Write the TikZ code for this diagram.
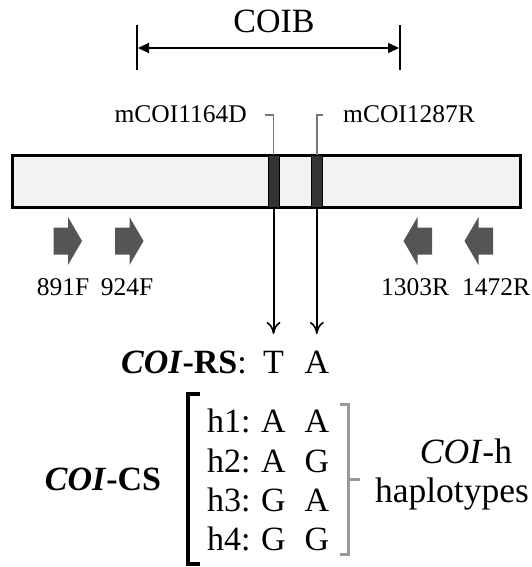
\documentclass[tikz,border=0pt]{standalone}
\usepackage{fontspec}
\setmainfont{Liberation Serif}
\usetikzlibrary{arrows.meta}
\definecolor{boxfill}{HTML}{F2F2F2}
\definecolor{band}{HTML}{333333}
\definecolor{primer}{HTML}{555555}
\definecolor{leader}{HTML}{777777}
\definecolor{brk}{HTML}{999999}
\tikzset{
  big/.style={font=\fontsize{34}{36}\selectfont, inner sep=0pt, anchor=base},
  bigger/.style={font=\fontsize{35.5}{38}\selectfont, inner sep=0pt, anchor=base},
  small/.style={font=\fontsize{25.5}{28}\selectfont, inner sep=0pt, anchor=base},
  snpline/.style={line width=2pt, -{To[length=12pt,width=14pt,line width=1.6pt]}},
  bandbox/.style={draw, line width=1pt, fill=band, minimum width=11pt, minimum height=52pt, inner sep=0pt},
}
\begin{document}
\begin{tikzpicture}[x=1pt,y=-1pt]
\useasboundingbox (0,0) rectangle (532,567);

% amplicon span
\node[big] (coib) at (274,33) {COIB};
\coordinate (dL) at (137,48);
\coordinate (dR) at (400,48);
\draw[line width=2.5pt] (137,25) -- (137,70);
\draw[line width=2.5pt] (400,25) -- (400,70);
\draw[line width=2pt, {Triangle[length=11pt,width=10pt]}-{Triangle[length=11pt,width=10pt]}, shorten <=1pt, shorten >=1pt] (dL) -- (dR);

% gene bar with the two SNP bands
\node[draw, line width=3pt, fill=boxfill, minimum width=508pt, minimum height=52pt, inner sep=0pt] (gene) at (266,181) {};
\node[bandbox] (s1) at (273.5,181) {};
\node[bandbox] (s2) at (316.8,181) {};

% primer labels with leaders
\node[small, anchor=base east] (p1) at (247,122) {mCOI1164D};
\node[small, anchor=base west] (p2) at (343,122) {mCOI1287R};
\draw[leader, line width=1.5pt] (265,115) -- (273.5,115) -- (s1.north);
\draw[leader, line width=1.5pt] (323,115) -- (316.8,115) -- (s2.north);

% flanking primers (forward to the right, reverse to the left)
\foreach \x/\d in {53.5/1, 115/1, 432/-1, 493/-1}{
  \fill[primer] (\x,227.5) -- ++(14.5*\d,0) -- ++(0,-10.5) -- ++(14*\d,24) -- ++(-14*\d,24) -- ++(0,-10.5) -- ++(-14.5*\d,0) -- cycle;
}
\node[small] (l1) at (63,295) {891F};
\node[small] (l2) at (127,295) {924F};
\node[small] (l3) at (415,295) {1303R};
\node[small] (l4) at (496,295) {1472R};

% reference sequence
\node[big, anchor=base east] (rs) at (247,373) {\textbf{\textit{COI}-RS}:};
\node[big] (t1) at (273.5,373) {T};
\node[big] (a1) at (317,373) {A};
\draw[snpline] (s1.south) -- (273.5,334);
\draw[snpline] (s2.south) -- (316.8,334);

% haplotype rows
\node[big, anchor=base west] (h1) at (207,432) {h1:};
\node[big, anchor=base west] (h2) at (207,472) {h2:};
\node[big, anchor=base west] (h3) at (207,511) {h3:};
\node[big, anchor=base west] (h4) at (207,550) {h4:};
\node[big] (h1a) at (273.5,432) {A};  \node[big] (h1b) at (317,432) {A};
\node[big] (h2a) at (273.5,472) {A};  \node[big] (h2b) at (317,472) {G};
\node[big] (h3a) at (273.5,511) {G};  \node[big] (h3b) at (317,511) {A};
\node[big] (h4a) at (273.5,550) {G};  \node[big] (h4b) at (317,550) {G};

\node[big] (cs) at (103,490) {\textbf{\textit{COI}-CS}};
\draw[line width=3.5pt] (200,394) -- (188,394) -- (188,564) -- (200,564);
\draw[brk, line width=3pt] (340,404) -- (348,404) -- (348,554) -- (340,554);
\draw[brk, line width=3pt] (348,479) -- (360,479);

\node[bigger] (coih) at (466,463) {\textit{COI}-h};
\node[bigger] (hap) at (452,502) {haplotypes};
\end{tikzpicture}
\end{document}
